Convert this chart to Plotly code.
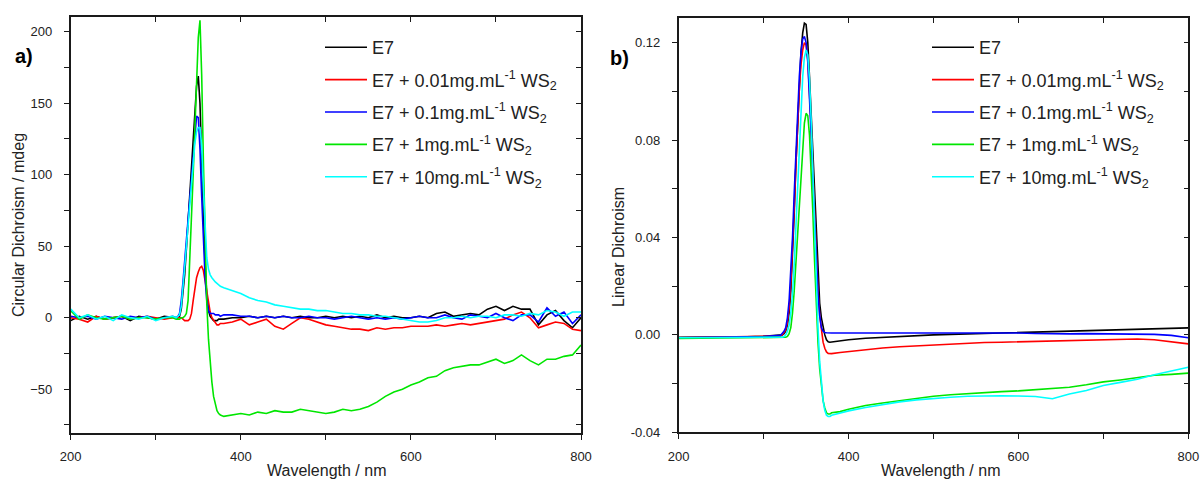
import plotly.graph_objects as go

# ---------------- data: circular dichroism (panel a) ----------------
wl_cd = [200, 210, 220, 230, 240, 250, 260, 270, 280, 290, 300, 310, 320,
         324, 326, 328, 330, 332, 334, 336, 338, 340, 342, 344, 346, 348, 350,
         352, 354, 356, 358, 360, 362, 364, 366, 368, 370, 372, 374, 376,
         380, 390, 400, 410, 420, 430, 440, 450, 460, 470,
         480, 490, 500, 510, 520, 530, 540, 550, 560, 570,
         580, 590, 600, 610, 620, 630, 640, 650, 660, 670,
         680, 690, 700, 710, 720, 730, 740, 750, 760, 770,
         780, 790, 800]

cd_e7 = [-2, 1, -1, 1, -1, 0, 1, -2, 1, 0, -1, 1, 0,
         0, 0, 1, 6, 16, 30, 48, 66, 84, 104, 124, 145, 162, 169,
         150, 110, 70, 38, 16, 5, 1, -1, -2, -2, -2, -1, -1,
         -1, 0, 0, 1, 0, 1, 0, 1, 0, 1,
         0, 0, 1, 0, 1, 0, 1, 0, 2, 0,
         1, 0, 0, 1, 0, 3, 4, 1, 2, 3,
         2, 6, 8, 5, 8, 6, 6, -5, 2, 5,
         -2, -7, 0]

cd_001 = [0, -1, -3, 1, -1, 0, 1, -1, 0, 1, 0, -1, 0,
          0, 0, 0, 0, -1, -2, -2, -2, -1, 3, 12, 22, 28, 32,
          35, 36, 33, 26, 18, 10, 4, 0, -2, -4, -5, -5, -4,
          -4, -3, -1, -5, -3, -1, -6, -8, -4, 0,
          -1, -3, -5, -6, -7, -8, -8, -9, -7, -8,
          -7, -7, -6, -6, -6, -5, -6, -5, -4, -5,
          -4, -3, -2, -1, 2, 4, 0, -7, -5, -3,
          -4, -8, -9]

cd_01 = [1, 0, 1, -1, 1, 0, -1, 1, 0, 1, -1, 0, 1,
         0, 1, 3, 12, 25, 40, 55, 70, 84, 100, 116, 131, 141, 140,
         118, 85, 52, 28, 12, 5, 3, 3, 3, 2, 2, 2, 1,
         2, 2, 1, 1, 0, 1, 0, 1, 0, 0,
         1, 0, 0, -1, 0, 1, 0, -1, 0, -1,
         0, -1, 0, 1, 0, 0, 2, 0, -1, 2,
         1, 0, 3, 0, -2, 2, 2, -3, 7, 1,
         4, -4, 2]

cd_1 = [5, -1, 2, 0, -1, 0, 1, -1, 0, 0, -1, 0, 0,
        -1, -1, -1, 0, 0, 1, 3, 12, 38, 70, 100, 132, 165, 196,
        208, 170, 110, 50, 10, -15, -32, -45, -55, -61, -65, -67, -68,
        -69, -68, -67, -68, -66, -67, -65, -66, -66, -64,
        -65, -66, -67, -66, -64, -65, -64, -62, -59, -55,
        -52, -50, -47, -45, -42, -41, -37, -35, -34, -33,
        -33, -31, -29, -32, -30, -26, -30, -33, -29, -29,
        -27, -26, -19]

cd_10 = [6, 0, 2, -1, 1, -2, 2, 0, -1, 1, -2, 0, 1,
         0, 1, 2, 8, 20, 35, 50, 65, 80, 95, 110, 122, 130, 133,
         133, 120, 90, 60, 42, 34, 30, 28, 26, 25, 24, 23, 22,
         21, 19, 17, 14, 12, 11, 9, 8, 7, 6,
         6, 5, 5, 4, 3, 3, 2, 2, 1, 1,
         0, -1, -2, -3, -3, -2, 0, 0, 1, 0,
         1, 1, 0, 2, 2, 1, 3, 2, 5, 4,
         1, 4, 4]

# ---------------- data: linear dichroism (panel b) ----------------
wl_ld = [200, 220, 240, 260, 280, 300, 320,
         322, 324, 326, 328, 330, 332, 334, 336, 338, 340,
         342, 344, 346, 348, 350, 352, 354, 356, 358, 360,
         362, 364, 366, 368, 370, 372, 374, 376, 378, 380,
         390, 400, 420, 440, 460, 480, 500, 520, 540, 560,
         580, 600, 620, 640, 660, 680, 700, 720, 740, 760,
         780, 800]

ld_e7 = [-0.001, -0.001, -0.001, -0.0009, -0.0008, -0.0006, -0.0003,
         0.0, 0.0005, 0.0015, 0.004, 0.009, 0.018, 0.032, 0.05, 0.07, 0.088,
         0.104, 0.116, 0.124, 0.128, 0.1275, 0.12, 0.106, 0.09, 0.074, 0.056,
         0.038, 0.023, 0.013, 0.007, 0.003, 0.0, -0.002, -0.0028, -0.003, -0.0029,
         -0.0025, -0.002, -0.0014, -0.001, -0.0006, -0.0003, 0.0, 0.0002, 0.0004, 0.0006,
         0.0008, 0.001, 0.0012, 0.0014, 0.0016, 0.0018, 0.002, 0.0022, 0.0024, 0.0026,
         0.0028, 0.0029]

ld_001 = [-0.0012, -0.0011, -0.001, -0.001, -0.0009, -0.0007, -0.0004,
          0.0, 0.0008, 0.002, 0.005, 0.011, 0.021, 0.035, 0.052, 0.07, 0.087,
          0.101, 0.111, 0.117, 0.12, 0.119, 0.113, 0.101, 0.085, 0.067, 0.049,
          0.032, 0.018, 0.008, 0.001, -0.003, -0.0055, -0.007, -0.0076, -0.0078, -0.0077,
          -0.0072, -0.0068, -0.006, -0.0054, -0.0049, -0.0045, -0.0041, -0.0037, -0.0034, -0.0031,
          -0.003, -0.0028, -0.0026, -0.0024, -0.0022, -0.002, -0.0018, -0.0017, -0.0017, -0.002,
          -0.003, -0.0037]

ld_01 = [-0.0012, -0.0011, -0.001, -0.001, -0.0009, -0.0007, -0.0002,
         0.0005, 0.0015, 0.003, 0.007, 0.014, 0.025, 0.04, 0.058, 0.076, 0.092,
         0.106, 0.116, 0.1215, 0.1225, 0.12, 0.112, 0.099, 0.082, 0.064, 0.046,
         0.03, 0.017, 0.008, 0.003, 0.0015, 0.001, 0.0009, 0.0008, 0.0008, 0.0008,
         0.0008, 0.0008, 0.0008, 0.0009, 0.0009, 0.0009, 0.001, 0.001, 0.001, 0.0009,
         0.0009, 0.0008, 0.0006, 0.0004, 0.0004, 0.0005, 0.0005, 0.0004, 0.0003, 0.0002,
         -0.0002, -0.0012]

ld_1 = [-0.0015, -0.0014, -0.0013, -0.0013, -0.0012, -0.0012, -0.0012,
        -0.0012, -0.0011, -0.001, -0.0006, 0.0005, 0.003, 0.009, 0.018, 0.03, 0.043,
        0.056, 0.068, 0.079, 0.087, 0.091, 0.09, 0.082, 0.068, 0.05, 0.03,
        0.012, -0.003, -0.014, -0.022, -0.027, -0.03, -0.032, -0.0325, -0.0325, -0.032,
        -0.0315, -0.0305, -0.029, -0.028, -0.027, -0.026, -0.0252, -0.0246, -0.0241, -0.0237,
        -0.0233, -0.023, -0.0226, -0.0222, -0.0215, -0.0205, -0.0193, -0.0185, -0.0175, -0.0166,
        -0.0162, -0.0157]

ld_10 = [-0.0012, -0.0012, -0.0012, -0.0011, -0.0011, -0.001, -0.001,
         -0.0009, -0.0007, 0.0, 0.0015, 0.004, 0.009, 0.017, 0.029, 0.044, 0.061,
         0.078, 0.094, 0.106, 0.114, 0.117, 0.115, 0.105, 0.088, 0.066, 0.043,
         0.021, 0.003, -0.011, -0.021, -0.027, -0.031, -0.033, -0.0335, -0.0335, -0.033,
         -0.032, -0.0312, -0.0298, -0.0285, -0.0275, -0.0267, -0.026, -0.0256, -0.0252, -0.025,
         -0.025, -0.0251, -0.0253, -0.0262, -0.0243, -0.0228, -0.0208, -0.0195, -0.0182, -0.0164,
         -0.0148, -0.0133]

names = ["E7",
         "E7 + 0.01mg.mL<sup>-1</sup> WS<sub>2</sub>",
         "E7 + 0.1mg.mL<sup>-1</sup> WS<sub>2</sub>",
         "E7 + 1mg.mL<sup>-1</sup> WS<sub>2</sub>",
         "E7 + 10mg.mL<sup>-1</sup> WS<sub>2</sub>"]
colors = ["#000000", "#ff0000", "#0000ff", "#00e600", "#00ffff"]
cd_series = [cd_e7, cd_001, cd_01, cd_1, cd_10]
ld_series = [ld_e7, ld_001, ld_01, ld_1, ld_10]

FONT = "Arial, 'Liberation Sans', sans-serif"
W, H = 1203, 480
ML, MR, MT, MB = 70, 14, 17, 47
PW, PH = W - ML - MR, H - MT - MB


def xp(px):
    return (px - ML) / PW


def yp(py):
    return 1 - (py - MT) / PH


fig = go.Figure()
for i, (nm, col, ys) in enumerate(zip(names, colors, cd_series)):
    fig.add_trace(go.Scatter(x=wl_cd, y=ys, mode="lines", name=nm,
                             line=dict(color=col, width=1.6),
                             xaxis="x", yaxis="y", legend="legend",
                             legendgroup="a%d" % i))
for i, (nm, col, ys) in enumerate(zip(names, colors, ld_series)):
    fig.add_trace(go.Scatter(x=wl_ld, y=ys, mode="lines", name=nm,
                             line=dict(color=col, width=1.6),
                             xaxis="x2", yaxis="y2", legend="legend2",
                             legendgroup="b%d" % i))
# empty traces to register the mirror (top/right) tick axes
fig.add_trace(go.Scatter(x=[], y=[], xaxis="x3", yaxis="y3", showlegend=False, hoverinfo="skip"))
fig.add_trace(go.Scatter(x=[], y=[], xaxis="x4", yaxis="y4", showlegend=False, hoverinfo="skip"))

# panel geometry (pixels)
L1, R1 = 70.7, 581.0
L2, R2 = 678.7, 1188.3
T1, B1 = 17.3, 432.7
T2, B2 = 18.3, 432.3
dx1 = [xp(L1), xp(R1)]
dx2 = [xp(L2), xp(R2)]
dy1 = [max(0, yp(B1)), min(1, yp(T1))]
dy2 = [max(0, yp(B2)), min(1, yp(T2))]

axcol = "#1a1a1a"
tickfont = dict(family=FONT, size=13, color="#222222")
common = dict(showgrid=False, zeroline=False, showline=True, linecolor=axcol,
              linewidth=1.6, ticks="outside", ticklen=5, tickwidth=1.3,
              tickcolor=axcol, tickfont=tickfont, mirror=False, automargin=False)
mirror_common = dict(showgrid=False, zeroline=False, showline=True, linecolor=axcol,
                     linewidth=1.6, ticks="inside", ticklen=5, tickwidth=1.3,
                     tickcolor=axcol, showticklabels=False, automargin=False)
minor_x = dict(tickvals=[300, 500, 700], ticks="outside", ticklen=5, tickwidth=1.3, tickcolor=axcol)

legend_common = dict(xanchor="left", yanchor="top", bgcolor="rgba(0,0,0,0)", borderwidth=0,
                     font=dict(family=FONT, size=18, color="#222222"),
                     itemwidth=42, tracegroupgap=6)

fig.update_layout(
    width=W, height=H, margin=dict(l=ML, r=MR, t=MT, b=MB, autoexpand=False),
    paper_bgcolor="white", plot_bgcolor="white",
    font=dict(family=FONT, color="#222222"),
    xaxis=dict(domain=dx1, anchor="y", range=[200, 800], tickvals=[200, 400, 600, 800],
               minor=minor_x, ticklabelstandoff=6, **common),
    yaxis=dict(domain=dy1, anchor="x", range=[-80.4, 210.1], tickvals=[-50, 0, 50, 100, 150, 200],
               minor=dict(tickvals=[-75, -25, 25, 75, 125, 175], ticks="outside", ticklen=5,
                          tickwidth=1.3, tickcolor=axcol),
               ticklabelstandoff=9, **common),
    xaxis2=dict(domain=dx2, anchor="y2", range=[200, 800], tickvals=[200, 400, 600, 800],
                minor=minor_x, ticklabelstandoff=6, **common),
    yaxis2=dict(domain=dy2, anchor="x2", range=[-0.04, 0.13],
                tickvals=[-0.04, 0.0, 0.04, 0.08, 0.12],
                ticktext=["-0.04", "0.00", "0.04", "0.08", "0.12"],
                minor=dict(tickvals=[-0.02, 0.02, 0.06, 0.10], ticks="outside", ticklen=5,
                           tickwidth=1.3, tickcolor=axcol),
                ticklabelstandoff=9, **common),
    xaxis3=dict(overlaying="x", anchor="y", side="top", range=[200, 800],
                tickvals=[200, 300, 400, 500, 600, 700, 800], **mirror_common),
    yaxis3=dict(overlaying="y", anchor="x", side="right", range=[-80.4, 210.1],
                tickvals=[-75, -50, -25, 0, 25, 50, 75, 100, 125, 150, 175, 200], **mirror_common),
    xaxis4=dict(overlaying="x2", anchor="y2", side="top", range=[200, 800],
                tickvals=[200, 300, 400, 500, 600, 700, 800], **mirror_common),
    yaxis4=dict(overlaying="y2", anchor="x2", side="right", range=[-0.04, 0.13],
                tickvals=[-0.04, -0.02, 0.0, 0.02, 0.04, 0.06, 0.08, 0.10, 0.12], **mirror_common),
    legend=dict(x=xp(320), y=yp(29), **legend_common),
    legend2=dict(x=xp(927), y=yp(29), **legend_common),
    showlegend=True,
)

annots = [
    dict(text="<b>a)</b>", x=xp(24), y=yp(56), font=dict(size=20, color="#000000")),
    dict(text="<b>b)</b>", x=xp(619), y=yp(58), font=dict(size=20, color="#000000")),
    dict(text="Circular Dichroism / mdeg", x=xp(18), y=yp(225), textangle=-90,
         font=dict(size=16, color="#222222")),
    dict(text="Linear Dichroism", x=xp(618), y=yp(247), textangle=-90,
         font=dict(size=16, color="#222222")),
    dict(text="Wavelength / nm", x=xp(326), y=yp(470), font=dict(size=16, color="#222222")),
    dict(text="Wavelength / nm", x=xp(940), y=yp(470), font=dict(size=16, color="#222222")),
]
for a in annots:
    fig.add_annotation(xref="paper", yref="paper", showarrow=False,
                       xanchor="center", yanchor="middle", **a)

# remove the browser's default page margin so the figure sits at the window's corner
fig.write_html("out.html",
               config={"displayModeBar": False},
               post_script="document.body.style.margin='0';document.body.style.overflow='hidden';")
